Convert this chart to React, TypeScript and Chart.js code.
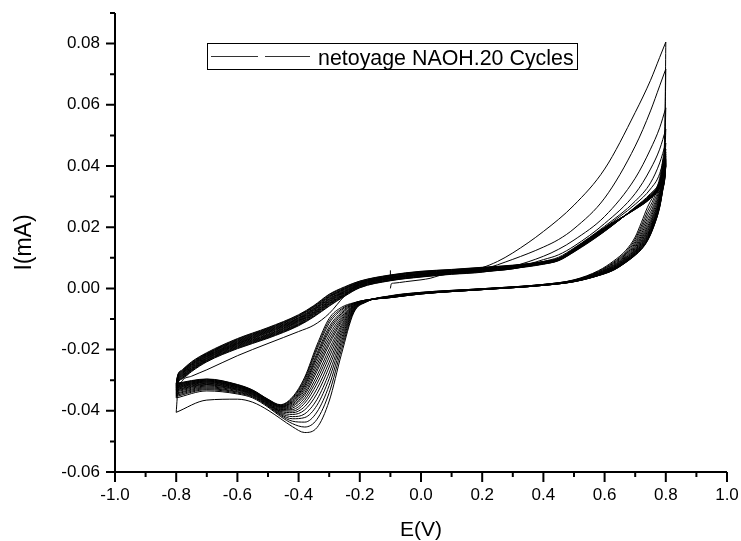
import React, { useEffect, useRef } from "react";
import { Chart, registerables } from "chart.js";

Chart.register(...registerables);

const LEGEND_LABEL = "netoyage NAOH.20 Cycles";
const X_TITLE = "E(V)";
const Y_TITLE = "I(mA)";

// Axis ranges / ticks
const X_MIN = -1.0;
const X_MAX = 1.0;
const X_STEP = 0.1;
const Y_MIN = -0.06;
const Y_MAX = 0.09;
const Y_STEP = 0.01;

// First half-cycle starts at -0.1 V (anodic sweep to +0.8 V)
const E_START = [-0.1, -0.097, -0.09, -0.05, 0, 0.03, 0.06, 0.1, 0.2, 0.25, 0.3, 0.4, 0.5, 0.6, 0.7, 0.75, 0.78, 0.8];
const I_START = [0.0, 0.0015, 0.0017, 0.0022, 0.0028, 0.0033, 0.0042, 0.0049, 0.0068, 0.0088, 0.0116, 0.0186, 0.0272, 0.039, 0.0575, 0.068, 0.0755, 0.0805];

// Small start/stop marker at -0.1 V
const E_MARK = [-0.1, -0.1];
const I_MARK = [0.0027, 0.0059];

// Potential grids (V)
const E_ANODIC = [-0.8, -0.795, -0.78, -0.75, -0.7, -0.6, -0.5, -0.4, -0.35, -0.3, -0.25, -0.2, -0.1, 0, 0.1, 0.2, 0.3, 0.4, 0.45, 0.5, 0.6, 0.7, 0.75, 0.78, 0.8];
const E_CATHODIC = [0.8, 0.797, 0.79, 0.78, 0.76, 0.74, 0.72, 0.7, 0.67, 0.63, 0.58, 0.5, 0.4, 0.2, 0, -0.1, -0.18, -0.22, -0.26, -0.3, -0.34, -0.38, -0.42, -0.46, -0.5, -0.55, -0.6, -0.7, -0.8];

// Anodic sweeps (mA), cycles 2..20
const a02 = [-0.0405, -0.034, -0.0302, -0.0287, -0.0266, -0.022, -0.018, -0.0141, -0.012, -0.0082, -0.0025, 0.0016, 0.0034, 0.0044, 0.0054, 0.0063, 0.0095, 0.0135, 0.016, 0.0195, 0.0295, 0.0465, 0.058, 0.0662, 0.0717];
const a03 = [-0.0358, -0.0312, -0.0296, -0.0272, -0.024, -0.0197, -0.0163, -0.0122, -0.0093, -0.0058, -0.0026, 0.0002, 0.0025, 0.0037, 0.0046, 0.0053, 0.0072, 0.0105, 0.0128, 0.0158, 0.0235, 0.036, 0.0455, 0.0525, 0.059];
const a04 = [-0.0353, -0.031, -0.0294, -0.027, -0.0238, -0.0195, -0.0161, -0.012, -0.0091, -0.0056, -0.0024, 0.0003, 0.0026, 0.0038, 0.0047, 0.0054, 0.0066, 0.0094, 0.011, 0.0138, 0.0212, 0.031, 0.039, 0.0455, 0.052];
const a05 = [-0.0349, -0.0309, -0.0293, -0.0268, -0.0236, -0.0193, -0.0159, -0.0118, -0.0089, -0.0053, -0.0022, 0.0005, 0.0027, 0.0039, 0.0048, 0.0055, 0.0064, 0.0088, 0.0102, 0.0132, 0.0203, 0.0285, 0.0345, 0.041, 0.0475];
const a06 = [-0.0345, -0.0307, -0.0291, -0.0266, -0.0235, -0.0191, -0.0157, -0.0116, -0.0086, -0.0051, -0.0021, 0.0006, 0.0028, 0.004, 0.0049, 0.0056, 0.0064, 0.0085, 0.0097, 0.0128, 0.0199, 0.0275, 0.0325, 0.0375, 0.0455];
const a07 = [-0.0342, -0.0305, -0.0289, -0.0265, -0.0233, -0.0189, -0.0155, -0.0114, -0.0084, -0.0049, -0.0019, 0.0007, 0.0029, 0.0041, 0.005, 0.0057, 0.0065, 0.0079, 0.0091, 0.0119, 0.0186, 0.0266, 0.031, 0.0352, 0.0445];
const a08 = [-0.0338, -0.0304, -0.0287, -0.0263, -0.0231, -0.0187, -0.0153, -0.0111, -0.0082, -0.0047, -0.0017, 0.0009, 0.0031, 0.0043, 0.0051, 0.0058, 0.0066, 0.008, 0.0091, 0.012, 0.0187, 0.0265, 0.0307, 0.0348, 0.0438];
const a09 = [-0.0335, -0.0302, -0.0285, -0.0261, -0.0229, -0.0185, -0.0151, -0.0109, -0.008, -0.0044, -0.0015, 0.001, 0.0032, 0.0044, 0.0052, 0.0059, 0.0067, 0.008, 0.0092, 0.0121, 0.0188, 0.0264, 0.0305, 0.0345, 0.0432];
const a10 = [-0.0332, -0.03, -0.0284, -0.0259, -0.0228, -0.0183, -0.0149, -0.0107, -0.0078, -0.0042, -0.0013, 0.0011, 0.0033, 0.0045, 0.0053, 0.006, 0.0068, 0.0081, 0.0093, 0.0122, 0.0189, 0.0263, 0.0303, 0.0343, 0.0427];
const a11 = [-0.033, -0.0298, -0.0282, -0.0257, -0.0226, -0.0181, -0.0146, -0.0105, -0.0076, -0.004, -0.0011, 0.0012, 0.0034, 0.0046, 0.0054, 0.0061, 0.0069, 0.0082, 0.0093, 0.0122, 0.019, 0.0263, 0.0302, 0.0341, 0.0423];
const a12 = [-0.0327, -0.0297, -0.028, -0.0255, -0.0224, -0.018, -0.0144, -0.0103, -0.0073, -0.0037, -0.001, 0.0014, 0.0035, 0.0047, 0.0054, 0.0061, 0.0069, 0.0082, 0.0094, 0.0123, 0.0191, 0.0262, 0.0301, 0.0339, 0.042];
const a13 = [-0.0325, -0.0295, -0.0278, -0.0253, -0.0222, -0.0178, -0.0142, -0.0101, -0.0071, -0.0035, -0.0008, 0.0015, 0.0036, 0.0048, 0.0055, 0.0062, 0.007, 0.0083, 0.0094, 0.0124, 0.0192, 0.0262, 0.03, 0.0338, 0.0417];
const a14 = [-0.0323, -0.0293, -0.0277, -0.0251, -0.0221, -0.0176, -0.014, -0.0099, -0.0069, -0.0033, -0.0006, 0.0016, 0.0037, 0.0049, 0.0056, 0.0063, 0.0071, 0.0084, 0.0095, 0.0125, 0.0193, 0.0261, 0.0299, 0.0336, 0.0414];
const a15 = [-0.0321, -0.0292, -0.0275, -0.0249, -0.0219, -0.0174, -0.0138, -0.0097, -0.0067, -0.003, -0.0004, 0.0018, 0.0038, 0.005, 0.0057, 0.0064, 0.0072, 0.0085, 0.0096, 0.0126, 0.0194, 0.0261, 0.0298, 0.0335, 0.0411];
const a16 = [-0.0319, -0.029, -0.0273, -0.0248, -0.0217, -0.0172, -0.0136, -0.0095, -0.0065, -0.0028, -0.0002, 0.0019, 0.004, 0.0052, 0.0058, 0.0065, 0.0073, 0.0085, 0.0096, 0.0127, 0.0195, 0.026, 0.0297, 0.0334, 0.0409];
const a17 = [-0.0317, -0.0288, -0.0271, -0.0246, -0.0215, -0.017, -0.0134, -0.0092, -0.0062, -0.0026, -0.0001, 0.002, 0.0041, 0.0053, 0.0059, 0.0066, 0.0074, 0.0086, 0.0097, 0.0127, 0.0196, 0.026, 0.0296, 0.0333, 0.0406];
const a18 = [-0.0315, -0.0286, -0.027, -0.0244, -0.0214, -0.0168, -0.0132, -0.009, -0.006, -0.0024, 0.0001, 0.0021, 0.0042, 0.0054, 0.006, 0.0067, 0.0074, 0.0087, 0.0097, 0.0128, 0.0197, 0.0259, 0.0295, 0.0332, 0.0404];
const a19 = [-0.0313, -0.0285, -0.0268, -0.0242, -0.0212, -0.0166, -0.013, -0.0088, -0.0058, -0.0021, 0.0003, 0.0023, 0.0043, 0.0055, 0.0061, 0.0068, 0.0075, 0.0087, 0.0098, 0.0129, 0.0198, 0.0259, 0.0295, 0.0331, 0.0402];
const a20 = [-0.0312, -0.0283, -0.0266, -0.024, -0.021, -0.0164, -0.0128, -0.0086, -0.0056, -0.0019, 0.0005, 0.0024, 0.0044, 0.0056, 0.0062, 0.0069, 0.0076, 0.0088, 0.0099, 0.013, 0.0199, 0.0258, 0.0294, 0.033, 0.04];

// Cathodic sweeps (mA), cycles 1..20
const k01 = [0.0805, 0.052, 0.042, 0.036, 0.0305, 0.0265, 0.0215, 0.0168, 0.0125, 0.009, 0.0058, 0.0028, 0.0013, -0.0001, -0.0013, -0.0024, -0.0045, -0.008, -0.0215, -0.0368, -0.0455, -0.0471, -0.0452, -0.0425, -0.0398, -0.0372, -0.0362, -0.0365, -0.0405];
const k02 = [0.0717, 0.05, 0.0408, 0.0349, 0.0292, 0.0252, 0.0204, 0.0161, 0.012, 0.0086, 0.0056, 0.0027, 0.0013, -0.0001, -0.0013, -0.0025, -0.0044, -0.0077, -0.02, -0.0341, -0.0428, -0.0453, -0.0442, -0.0418, -0.0388, -0.0358, -0.0345, -0.0335, -0.0358];
const k03 = [0.059, 0.047, 0.0397, 0.0338, 0.0281, 0.024, 0.0195, 0.0154, 0.0116, 0.0083, 0.0054, 0.0027, 0.0013, -0.0001, -0.0014, -0.0025, -0.0044, -0.0074, -0.0186, -0.0317, -0.0404, -0.0437, -0.0434, -0.0414, -0.0385, -0.0355, -0.0342, -0.0331, -0.0353];
const k04 = [0.052, 0.044, 0.0387, 0.0329, 0.027, 0.0229, 0.0186, 0.0148, 0.0112, 0.008, 0.0053, 0.0026, 0.0012, -0.0002, -0.0014, -0.0026, -0.0043, -0.0071, -0.0174, -0.0295, -0.0382, -0.0422, -0.0426, -0.0411, -0.0383, -0.0353, -0.0339, -0.0328, -0.0349];
const k05 = [0.0475, 0.042, 0.0378, 0.032, 0.0261, 0.0219, 0.0178, 0.0143, 0.0108, 0.0077, 0.0051, 0.0026, 0.0012, -0.0002, -0.0015, -0.0026, -0.0043, -0.0069, -0.0163, -0.0276, -0.0363, -0.041, -0.0419, -0.0408, -0.0381, -0.0351, -0.0337, -0.0325, -0.0345];
const k06 = [0.0455, 0.0405, 0.037, 0.0313, 0.0253, 0.021, 0.0171, 0.0138, 0.0105, 0.0075, 0.005, 0.0025, 0.0012, -0.0002, -0.0015, -0.0027, -0.0042, -0.0067, -0.0152, -0.0257, -0.0344, -0.0397, -0.0412, -0.0405, -0.0379, -0.0349, -0.0334, -0.0322, -0.0342];
const k07 = [0.0445, 0.0398, 0.0363, 0.0306, 0.0245, 0.0202, 0.0165, 0.0134, 0.0102, 0.0073, 0.0049, 0.0025, 0.0012, -0.0002, -0.0015, -0.0027, -0.0042, -0.0065, -0.0143, -0.0241, -0.0328, -0.0386, -0.0406, -0.0402, -0.0377, -0.0347, -0.0332, -0.0319, -0.0338];
const k08 = [0.0438, 0.0393, 0.0357, 0.03, 0.0239, 0.0196, 0.016, 0.013, 0.01, 0.0071, 0.0048, 0.0025, 0.0011, -0.0003, -0.0016, -0.0027, -0.0041, -0.0063, -0.0134, -0.0225, -0.0312, -0.0375, -0.0401, -0.04, -0.0376, -0.0346, -0.033, -0.0316, -0.0335];
const k09 = [0.0432, 0.0388, 0.0352, 0.0295, 0.0234, 0.019, 0.0155, 0.0127, 0.0098, 0.007, 0.0047, 0.0024, 0.0011, -0.0003, -0.0016, -0.0028, -0.0041, -0.0061, -0.0126, -0.0211, -0.0298, -0.0366, -0.0396, -0.0398, -0.0374, -0.0344, -0.0329, -0.0314, -0.0332];
const k10 = [0.0427, 0.0384, 0.0347, 0.0291, 0.0228, 0.0185, 0.0151, 0.0124, 0.0096, 0.0068, 0.0046, 0.0024, 0.0011, -0.0003, -0.0016, -0.0028, -0.0041, -0.0059, -0.0119, -0.0198, -0.0285, -0.0357, -0.0391, -0.0396, -0.0373, -0.0343, -0.0327, -0.0312, -0.033];
const k11 = [0.0423, 0.0381, 0.0343, 0.0287, 0.0224, 0.018, 0.0147, 0.0122, 0.0094, 0.0067, 0.0046, 0.0024, 0.0011, -0.0003, -0.0016, -0.0028, -0.004, -0.0058, -0.0111, -0.0184, -0.0271, -0.0348, -0.0386, -0.0394, -0.0371, -0.0341, -0.0325, -0.031, -0.0327];
const k12 = [0.042, 0.0378, 0.0339, 0.0283, 0.022, 0.0176, 0.0144, 0.0119, 0.0093, 0.0066, 0.0045, 0.0023, 0.0011, -0.0003, -0.0017, -0.0029, -0.004, -0.0056, -0.0105, -0.0174, -0.0261, -0.0341, -0.0382, -0.0392, -0.037, -0.034, -0.0324, -0.0308, -0.0325];
const k13 = [0.0417, 0.0375, 0.0336, 0.028, 0.0217, 0.0173, 0.0141, 0.0118, 0.0091, 0.0065, 0.0045, 0.0023, 0.0011, -0.0003, -0.0017, -0.0029, -0.004, -0.0055, -0.0099, -0.0163, -0.025, -0.0333, -0.0378, -0.039, -0.0369, -0.0339, -0.0322, -0.0306, -0.0323];
const k14 = [0.0414, 0.0373, 0.0333, 0.0277, 0.0214, 0.0169, 0.0138, 0.0116, 0.009, 0.0064, 0.0044, 0.0023, 0.0011, -0.0003, -0.0017, -0.0029, -0.0039, -0.0054, -0.0093, -0.0152, -0.0239, -0.0326, -0.0374, -0.0388, -0.0368, -0.0338, -0.0321, -0.0305, -0.0321];
const k15 = [0.0411, 0.0371, 0.033, 0.0275, 0.0211, 0.0166, 0.0136, 0.0114, 0.0089, 0.0063, 0.0044, 0.0023, 0.001, -0.0004, -0.0017, -0.0029, -0.0039, -0.0052, -0.0087, -0.0141, -0.0228, -0.0319, -0.0371, -0.0387, -0.0367, -0.0337, -0.032, -0.0303, -0.0319];
const k16 = [0.0409, 0.0369, 0.0328, 0.0272, 0.0208, 0.0163, 0.0134, 0.0113, 0.0088, 0.0062, 0.0043, 0.0023, 0.001, -0.0004, -0.0017, -0.0029, -0.0039, -0.0051, -0.0082, -0.0133, -0.022, -0.0314, -0.0368, -0.0386, -0.0366, -0.0336, -0.0318, -0.0302, -0.0317];
const k17 = [0.0406, 0.0366, 0.0325, 0.027, 0.0205, 0.016, 0.0131, 0.0111, 0.0087, 0.0062, 0.0043, 0.0022, 0.001, -0.0004, -0.0018, -0.003, -0.0039, -0.005, -0.0077, -0.0125, -0.0212, -0.0308, -0.0365, -0.0384, -0.0365, -0.0335, -0.0317, -0.03, -0.0315];
const k18 = [0.0404, 0.0364, 0.0323, 0.0268, 0.0203, 0.0158, 0.013, 0.011, 0.0086, 0.0061, 0.0042, 0.0022, 0.001, -0.0004, -0.0018, -0.003, -0.0038, -0.0049, -0.0071, -0.0114, -0.0201, -0.0301, -0.0361, -0.0383, -0.0364, -0.0334, -0.0316, -0.0299, -0.0313];
const k19 = [0.0402, 0.0362, 0.0322, 0.0266, 0.0201, 0.0157, 0.0128, 0.0109, 0.0086, 0.006, 0.0042, 0.0022, 0.001, -0.0004, -0.0018, -0.003, -0.0038, -0.0048, -0.0067, -0.0106, -0.0193, -0.0295, -0.0358, -0.0381, -0.0363, -0.0333, -0.0315, -0.0297, -0.0312];
const k20 = [0.04, 0.036, 0.032, 0.0265, 0.02, 0.0155, 0.0127, 0.0108, 0.0085, 0.006, 0.0042, 0.0022, 0.001, -0.0004, -0.0018, -0.003, -0.0038, -0.0047, -0.0062, -0.0098, -0.0185, -0.029, -0.0355, -0.038, -0.0362, -0.0332, -0.0314, -0.0296, -0.031];

const ANODIC_SWEEPS = [a02, a03, a04, a05, a06, a07, a08, a09, a10, a11, a12, a13, a14, a15, a16, a17, a18, a19, a20];
const CATHODIC_SWEEPS = [k01, k02, k03, k04, k05, k06, k07, k08, k09, k10, k11, k12, k13, k14, k15, k16, k17, k18, k19, k20];

const FONT = "'Liberation Sans', Arial, Helvetica, sans-serif";

function toPoints(xs: number[], ys: number[]) {
  return xs.map((x, i) => ({ x, y: ys[i] }));
}

function lineDataset(data: { x: number; y: number }[], monotone = true) {
  return {
    data,
    borderColor: "#000",
    borderWidth: 1,
    pointRadius: 0,
    pointHoverRadius: 0,
    fill: false,
    cubicInterpolationMode: monotone ? ("monotone" as const) : ("default" as const),
    tension: 0,
  };
}

const axesPlugin = {
  id: "originAxes",
  afterDatasetsDraw(chart: any) {
    const { ctx, chartArea, scales } = chart;
    const xs = scales.x;
    const ys = scales.y;
    const left = Math.round(chartArea.left);
    const bottom = Math.round(chartArea.bottom);
    ctx.save();
    ctx.strokeStyle = "#000";
    ctx.lineWidth = 2;
    ctx.lineCap = "butt";
    ctx.beginPath();
    ctx.moveTo(left, chartArea.top);
    ctx.lineTo(left, bottom + 1);
    ctx.moveTo(left - 1, bottom);
    ctx.lineTo(chartArea.right, bottom);
    ys.ticks.forEach((t: any, i: number) => {
      const y = ys.getPixelForTick(i);
      const major = Math.round(t.value * 100) % 2 === 0;
      const len = major ? 9 : 5;
      ctx.moveTo(left - len, y);
      ctx.lineTo(left, y);
    });
    xs.ticks.forEach((t: any, i: number) => {
      const x = xs.getPixelForTick(i);
      const major = Math.round(t.value * 10) % 2 === 0;
      const len = major ? 10 : 5;
      ctx.moveTo(x, bottom);
      ctx.lineTo(x, bottom + len);
    });
    ctx.stroke();
    ctx.restore();
  },
};

const legendPlugin = {
  id: "originLegend",
  afterDraw(chart: any) {
    const { ctx } = chart;
    ctx.save();
    ctx.strokeStyle = "#000";
    ctx.lineWidth = 1;
    ctx.strokeRect(207.5, 43.5, 370, 26);
    ctx.strokeStyle = "#333";
    ctx.lineWidth = 1.2;
    ctx.beginPath();
    ctx.moveTo(211, 56.5);
    ctx.lineTo(258, 56.5);
    ctx.moveTo(265, 56.5);
    ctx.lineTo(310, 56.5);
    ctx.stroke();
    ctx.fillStyle = "#000";
    ctx.font = `21.4px ${FONT}`;
    ctx.textBaseline = "alphabetic";
    ctx.textAlign = "left";
    ctx.fillText(LEGEND_LABEL, 318, 64.5);
    ctx.restore();
  },
};

export default function App() {
  const ref = useRef<HTMLCanvasElement>(null);

  useEffect(() => {
    const canvas = ref.current;
    if (!canvas) return;
    const datasets: any[] = [];
    datasets.push(lineDataset(toPoints(E_START, I_START)));
    datasets.push(lineDataset(toPoints(E_CATHODIC, CATHODIC_SWEEPS[0])));
    for (let c = 0; c < ANODIC_SWEEPS.length; c++) {
      datasets.push(lineDataset(toPoints(E_ANODIC, ANODIC_SWEEPS[c])));
      datasets.push(lineDataset(toPoints(E_CATHODIC, CATHODIC_SWEEPS[c + 1])));
    }
    datasets.push(lineDataset(toPoints(E_MARK, I_MARK), false));

    const chart = new Chart(canvas, {
      type: "line",
      data: { datasets },
      options: {
        animation: false,
        responsive: false,
        devicePixelRatio: 1,
        events: [],
        layout: { padding: { left: 0, right: 14, top: 13, bottom: 0 } },
        plugins: {
          legend: { display: false },
          tooltip: { enabled: false },
        },
        scales: {
          x: {
            type: "linear",
            min: X_MIN,
            max: X_MAX,
            grid: { display: false, drawTicks: false },
            border: { display: false },
            afterFit: (scale: any) => {
              scale.height = 69;
              scale.paddingLeft = 0;
              scale.paddingRight = 0;
            },
            ticks: {
              stepSize: X_STEP,
              autoSkip: false,
              maxRotation: 0,
              minRotation: 0,
              padding: 13,
              color: "#000",
              font: { family: FONT, size: 17 },
              callback: (v: any) => {
                const n = Math.round(Number(v) * 10);
                return n % 2 === 0 ? (n / 10).toFixed(1) : "";
              },
            },
            title: {
              display: true,
              text: X_TITLE,
              color: "#000",
              font: { family: FONT, size: 21 },
              padding: { top: 0, bottom: -2 },
            },
          },
          y: {
            type: "linear",
            min: Y_MIN,
            max: Y_MAX,
            grid: { display: false, drawTicks: false },
            border: { display: false },
            afterFit: (scale: any) => {
              scale.width = 115;
              scale.paddingTop = 0;
              scale.paddingBottom = 0;
            },
            ticks: {
              stepSize: Y_STEP,
              autoSkip: false,
              padding: 15,
              color: "#000",
              font: { family: FONT, size: 17 },
              callback: (v: any) => {
                const n = Math.round(Number(v) * 100);
                return n % 2 === 0 ? (n / 100).toFixed(2) : "";
              },
            },
            title: {
              display: true,
              text: Y_TITLE,
              color: "#000",
              font: { family: FONT, size: 23 },
              padding: { top: 11, bottom: 0 },
            },
          },
        },
      },
      plugins: [axesPlugin, legendPlugin],
    });
    return () => chart.destroy();
  }, []);

  return (
    <canvas
      ref={ref}
      width={741}
      height={541}
      style={{ position: "fixed", left: 0, top: 0, width: 741, height: 541, display: "block" }}
    />
  );
}
